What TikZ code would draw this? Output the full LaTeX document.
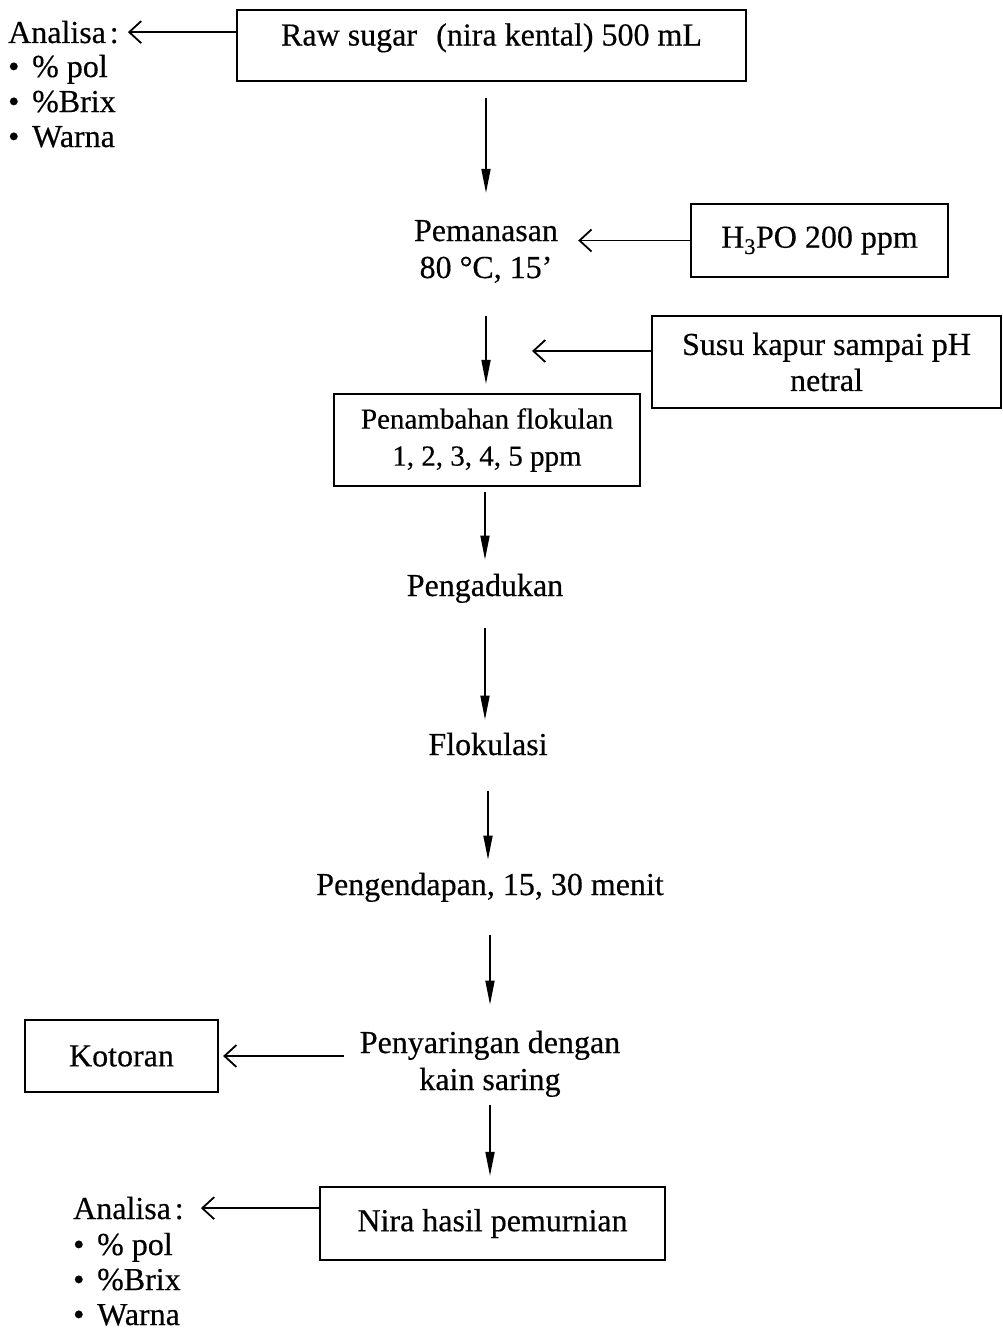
\documentclass[tikz,border=0pt]{standalone}
\usepackage{fontspec}
\setmainfont{Liberation Serif}[FakeBold=0.4]
\usetikzlibrary{arrows.meta}
\begin{document}
\begin{tikzpicture}[x=1pt,y=-1pt,
  every node/.style={font=\fontsize{32}{36}\selectfont},
  box/.style={draw, line width=2.2pt, inner sep=0pt, align=center},
  txt/.style={inner sep=0pt, align=center, anchor=base},
  two/.style={font=\fontsize{32}{37}\selectfont},
  lst/.style={inner sep=0pt, align=left, anchor=base west, font=\fontsize{32}{35}\selectfont},
  down/.style={line width=1.8pt, -{Triangle[length=24pt,width=9pt]}},
  side/.style={line width=1.8pt, -{Straight Barb[length=12pt,width=22pt,line width=1.8pt]}},
]
\useasboundingbox (0,0) rectangle (1003,1330);

% multi-line text nodes: base anchor = baseline of the last line
\node[box, minimum width=509pt, minimum height=71pt, text height=15pt, text depth=15pt] (raw) at (491.5,45.5) {Raw sugar\hspace{0.6em}(nira kental) 500 mL};
\node[txt, anchor=base west] (anal1) at (8,43) {Analisa\hspace{0.12em}:};
\node[lst] (list1) at (8,147) {•\hspace{0.4em}\% pol\\•\hspace{0.4em}\%Brix\\•\hspace{0.4em}Warna};

\node[txt, two] (pem) at (486,278) {Pemanasan\\80 °C, 15’};
\node[box, minimum width=257pt, minimum height=73pt] (h3po) at (819.5,240.5) {H\textsubscript{3}PO 200 ppm};
\node[box, minimum width=349pt, minimum height=92pt] (susu) at (826.5,362) {Susu kapur sampai pH\\netral};
\coordinate (susuin) at (532,351);

\node[box, minimum width=306pt, minimum height=92pt, font=\fontsize{29}{37}\selectfont] (pen) at (487,440) {Penambahan flokulan\\1, 2, 3, 4, 5 ppm};

\node[txt] (adu) at (485,596) {Pengadukan};
\node[txt] (flo) at (488,755) {Flokulasi};
\node[txt] (pgd) at (490,895) {Pengendapan, 15, 30 menit};
\node[txt, two] (peny) at (490,1090) {Penyaringan dengan\\kain saring};
\node[box, minimum width=193pt, minimum height=72pt] (kot) at (121.5,1056) {Kotoran};
\node[box, minimum width=345pt, minimum height=73pt] (nira) at (492.5,1223.5) {Nira hasil pemurnian};
\node[txt, anchor=base west] (anal2) at (73,1219) {Analisa\hspace{0.12em}:};
\node[lst] (list2) at (73,1325) {•\hspace{0.4em}\% pol\\•\hspace{0.4em}\%Brix\\•\hspace{0.4em}Warna};

% side arrows
\draw[side, shorten >=9pt] (raw.west |- anal1.east) -- (anal1.east);
\draw[side, shorten >=20pt] (h3po.west) -- (h3po.west -| pem.east);
\draw[side] (susu.west |- susuin) -- (susuin);
\draw[side, shorten <=16pt, shorten >=4pt] (kot.east -| peny.west) -- (kot.east);
\draw[side, shorten >=17pt] (nira.west |- anal2.east) -- (anal2.east);

% down arrows
\draw[down, shorten <=16pt, shorten >=27pt] (pem.north |- raw.south) -- (pem.north);
\draw[down, shorten <=33pt, shorten >=9pt] (pem.south) -- (pem.south |- pen.north);
\draw[down, shorten <=5pt, shorten >=14pt] (adu.north |- pen.south) -- (adu.north);
\draw[down, shorten <=25pt, shorten >=13pt] (adu.south) -- (adu.south |- flo.north);
\draw[down, shorten <=35pt, shorten >=13pt] (flo.south) -- (flo.south |- pgd.north);
\draw[down, shorten <=33pt, shorten >=26pt] (pgd.south) -- (pgd.south |- peny.north);
\draw[down, shorten <=8pt, shorten >=10pt] (peny.south) -- (peny.south |- nira.north);
\end{tikzpicture}
\end{document}
